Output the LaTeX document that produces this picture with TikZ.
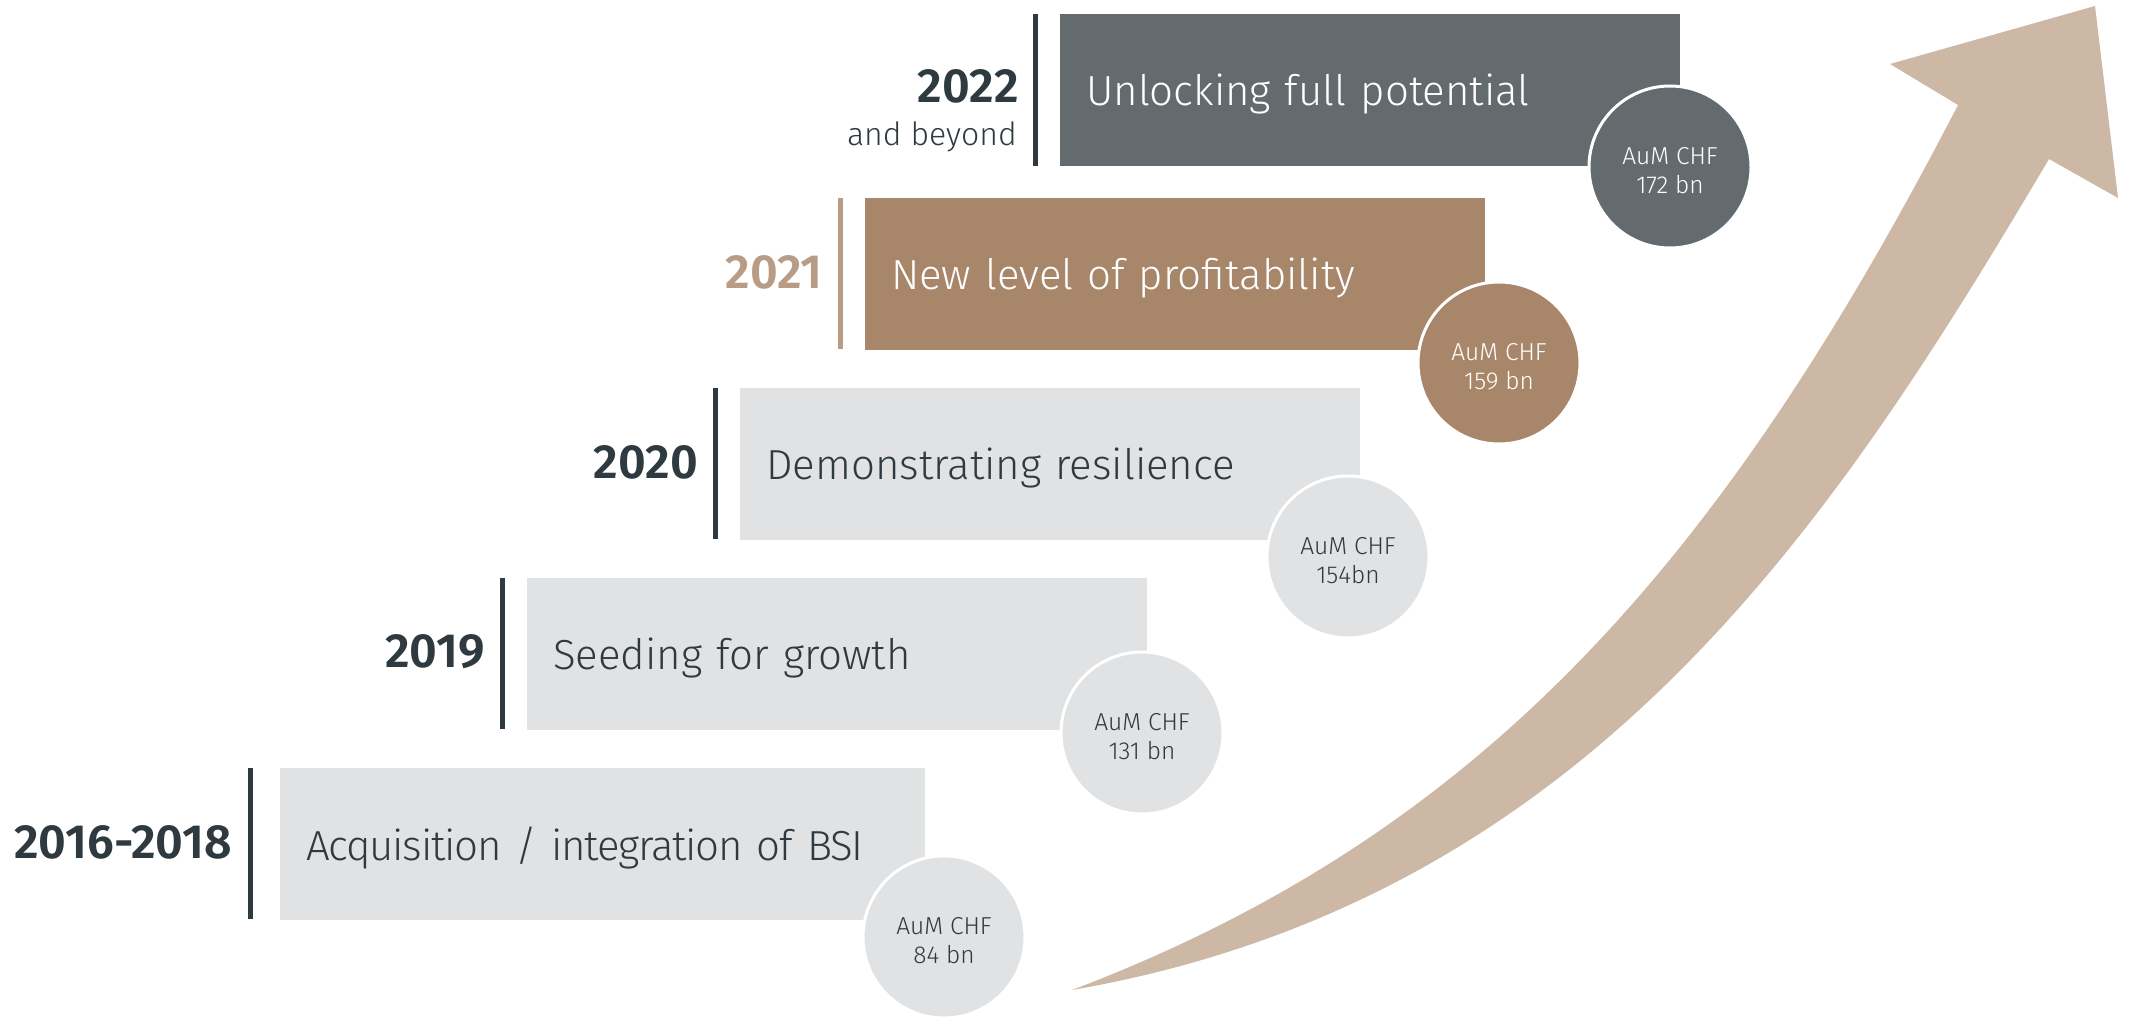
\documentclass[tikz,border=0pt]{standalone}
\usepackage{fontspec}
\setmainfont{Fira Sans}[UprightFont={* Light}, BoldFont={* SemiBold}]
\definecolor{darkbox}{HTML}{646B6E}
\definecolor{brownbox}{HTML}{A8866A}
\definecolor{lightbox}{HTML}{E1E2E4}
\definecolor{arrowtan}{HTML}{CDB8A6}
\definecolor{yearink}{HTML}{2F3A40}
\definecolor{yearbrown}{HTML}{B89C86}
\begin{document}
\begin{tikzpicture}[x=1pt,y=-1pt,
  stagebox/.style={anchor=north west, minimum height=152pt, inner xsep=26pt,
    inner ysep=0pt, align=left, text width=568pt, text depth=2pt,
    font=\fontsize{42}{50}\selectfont},
  aum/.style={circle, minimum size=162pt, inner sep=0pt, draw=white,
    line width=3pt},
  aumtext/.style={inner sep=0pt, align=center,
    font=\fontsize{24.5}{29}\selectfont},
  yearlbl/.style={anchor=east, inner sep=0pt, text=yearink,
    font=\bfseries\fontsize{48}{52}\selectfont},
  sidebar/.style={line width=5pt, yearink}]
\useasboundingbox (0,0) rectangle (2129,1019);

% rising arrow behind the stages
\fill[arrowtan] (1072,990)
  .. controls (1480,835) and (1720,565) .. (1958,105)
  -- (1890,64) -- (2095,6) -- (2118,198) -- (2049,159)
  .. controls (1835,520) and (1590,900) .. cycle;

% 2016-2018
\node[stagebox, fill=lightbox, text width=593pt, text=yearink] (s1) at (280,768) {\addfontfeature{LetterSpace=-3}Acquisition / integration of BSI};
\draw[sidebar] (250,768) -- (250,919);
\node[yearlbl] (y1) at (232,842) {2016-2018};
\node[aum, fill=lightbox] (c1) at (944,937) {};
\node[aumtext, text=yearink] (t1) at ([yshift=-4pt]c1.center) {AuM CHF\\84 bn};

% 2019
\node[stagebox, fill=lightbox, text=yearink] (s2) at (527,578) {Seeding for growth};
\draw[sidebar] (502,578) -- (502,729);
\node[yearlbl] (y2) at (485,652) {2019};
\node[aum, fill=lightbox] (c2) at (1142,733) {};
\node[aumtext, text=yearink] (t2) at ([yshift=-4pt]c2.center) {AuM CHF\\131 bn};

% 2020
\node[stagebox, fill=lightbox, text=yearink] (s3) at (740,388) {Demonstrating resilience};
\draw[sidebar] (715,388) -- (715,539);
\node[yearlbl] (y3) at (698,462) {2020};
\node[aum, fill=lightbox] (c3) at (1348,557) {};
\node[aumtext, text=yearink] (t3) at ([yshift=-4pt]c3.center) {AuM CHF\\154bn};

% 2021
\node[stagebox, fill=brownbox, text=white] (s4) at (865,198) {New level of profitability};
\draw[sidebar, yearbrown] (840,198) -- (840,349);
\node[yearlbl, text=yearbrown] (y4) at (823,272) {2021};
\node[aum, fill=brownbox] (c4) at (1499,363) {};
\node[aumtext, text=white] (t4) at ([yshift=-4pt]c4.center) {AuM CHF\\159 bn};

% 2022 and beyond
\node[stagebox, fill=darkbox, text=white] (s5) at (1060,14) {Unlocking full potential};
\draw[sidebar] (1035,14) -- (1035,166);
\node[yearlbl] (y5) at (1019,86) {2022};
\node[anchor=east, inner sep=0pt, text=yearink, font=\fontsize{32}{40}\selectfont] (b5) at (1017,137) {and beyond};
\node[aum, fill=darkbox] (c5) at (1670,167) {};
\node[aumtext, text=white] (t5) at ([yshift=-4pt]c5.center) {AuM CHF\\172 bn};
\end{tikzpicture}
\end{document}
